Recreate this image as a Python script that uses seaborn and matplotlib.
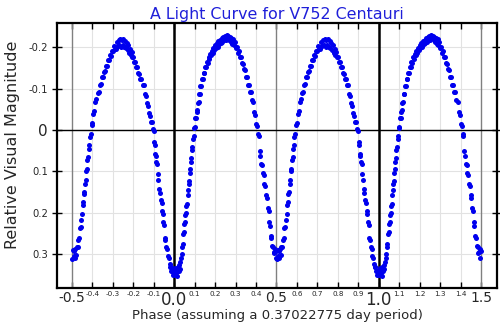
import matplotlib
matplotlib.use("Agg")
import matplotlib.pyplot as plt
import seaborn as sns
import pandas as pd

# ---- data: one cycle of the light curve (phase, relative visual magnitude) ----
phase = [
    0.000, 0.003, 0.006, 0.009, 0.012, 0.015, 0.018, 0.021, 0.024, 0.027,
    0.030, 0.033, 0.036, 0.039, 0.042, 0.045, 0.048, 0.050, 0.053, 0.055,
    0.058, 0.060, 0.063, 0.065, 0.068, 0.070, 0.073, 0.076, 0.079, 0.081,
    0.083, 0.086, 0.089, 0.092, 0.095, 0.098, 0.101, 0.104, 0.107, 0.110,
    0.113, 0.116, 0.119, 0.122, 0.125, 0.128, 0.132, 0.136, 0.140, 0.144,
    0.148, 0.152, 0.156, 0.160, 0.164, 0.168, 0.172, 0.176, 0.180, 0.184,
    0.188, 0.192, 0.196, 0.200, 0.204, 0.208, 0.212, 0.216, 0.220, 0.224,
    0.228, 0.232, 0.236, 0.240, 0.244, 0.248, 0.252, 0.256, 0.260, 0.264,
    0.268, 0.272, 0.276, 0.280, 0.284, 0.288, 0.292, 0.296, 0.300, 0.305,
    0.310, 0.315, 0.320, 0.325, 0.330, 0.335, 0.340, 0.345, 0.350, 0.355,
    0.360, 0.365, 0.370, 0.375, 0.380, 0.385, 0.390, 0.395, 0.400, 0.405,
    0.410, 0.414, 0.418, 0.421, 0.425, 0.429, 0.433, 0.437, 0.441, 0.445,
    0.449, 0.453, 0.457, 0.461, 0.464, 0.467, 0.471, 0.475, 0.479, 0.483,
    0.487, 0.490, 0.493, 0.496, 0.499, 0.502, 0.505, 0.508, 0.511, 0.514,
    0.517, 0.520, 0.524, 0.528, 0.532, 0.536, 0.539, 0.542, 0.546, 0.549,
    0.552, 0.555, 0.558, 0.561, 0.564, 0.567, 0.570, 0.573, 0.576, 0.579,
    0.582, 0.585, 0.588, 0.592, 0.596, 0.600, 0.605, 0.610, 0.615, 0.620,
    0.625, 0.630, 0.635, 0.640, 0.645, 0.650, 0.655, 0.660, 0.665, 0.670,
    0.675, 0.680, 0.685, 0.690, 0.695, 0.700, 0.705, 0.710, 0.715, 0.720,
    0.724, 0.728, 0.732, 0.736, 0.740, 0.744, 0.748, 0.752, 0.756, 0.760,
    0.764, 0.768, 0.772, 0.776, 0.780, 0.784, 0.788, 0.792, 0.796, 0.800,
    0.805, 0.810, 0.815, 0.820, 0.825, 0.830, 0.835, 0.840, 0.845, 0.850,
    0.855, 0.860, 0.865, 0.870, 0.875, 0.880, 0.885, 0.890, 0.895, 0.899,
    0.902, 0.905, 0.907, 0.909, 0.913, 0.917, 0.920, 0.922, 0.926, 0.930,
    0.934, 0.938, 0.941, 0.944, 0.947, 0.950, 0.953, 0.957, 0.961, 0.965,
    0.969, 0.973, 0.977, 0.980, 0.983, 0.986, 0.989, 0.992, 0.995, 0.998,
]
magnitude = [
    0.342, 0.350, 0.334, 0.346, 0.338, 0.352, 0.331, 0.340, 0.326, 0.335,
    0.318, 0.309, 0.298, 0.283, 0.274, 0.251, 0.245, 0.226, 0.221, 0.205,
    0.199, 0.184, 0.178, 0.157, 0.145, 0.130, 0.124, 0.103, 0.094, 0.076,
    0.067, 0.047, 0.040, 0.021, 0.014, -0.004, -0.008, -0.028, -0.030, -0.044,
    -0.048, -0.064, -0.067, -0.087, -0.088, -0.106, -0.107, -0.122, -0.123, -0.137,
    -0.138, -0.151, -0.152, -0.164, -0.162, -0.175, -0.171, -0.183, -0.180, -0.190,
    -0.186, -0.197, -0.193, -0.205, -0.199, -0.211, -0.201, -0.214, -0.207, -0.218,
    -0.209, -0.221, -0.212, -0.224, -0.216, -0.227, -0.218, -0.229, -0.221, -0.226,
    -0.217, -0.225, -0.213, -0.222, -0.208, -0.219, -0.206, -0.213, -0.198, -0.201,
    -0.186, -0.190, -0.176, -0.175, -0.162, -0.160, -0.147, -0.144, -0.128, -0.128,
    -0.109, -0.108, -0.092, -0.091, -0.072, -0.067, -0.043, -0.037, -0.015, -0.009,
    0.010, 0.015, 0.050, 0.063, 0.083, 0.085, 0.103, 0.109, 0.130, 0.135,
    0.156, 0.164, 0.188, 0.196, 0.221, 0.232, 0.255, 0.260, 0.280, 0.282,
    0.297, 0.295, 0.286, 0.308, 0.292, 0.311, 0.289, 0.305, 0.293, 0.309,
    0.287, 0.301, 0.282, 0.282, 0.265, 0.261, 0.237, 0.233, 0.216, 0.203,
    0.181, 0.173, 0.155, 0.149, 0.131, 0.121, 0.099, 0.093, 0.073, 0.065,
    0.045, 0.035, 0.016, 0.009, -0.013, -0.018, -0.039, -0.046, -0.067, -0.075,
    -0.090, -0.091, -0.109, -0.112, -0.127, -0.128, -0.141, -0.143, -0.155, -0.155,
    -0.168, -0.168, -0.180, -0.179, -0.191, -0.191, -0.202, -0.201, -0.196, -0.213,
    -0.202, -0.216, -0.204, -0.219, -0.201, -0.217, -0.206, -0.220, -0.200, -0.215,
    -0.197, -0.210, -0.193, -0.204, -0.187, -0.196, -0.180, -0.189, -0.175, -0.176,
    -0.163, -0.163, -0.151, -0.152, -0.138, -0.136, -0.123, -0.122, -0.109, -0.108,
    -0.088, -0.082, -0.064, -0.058, -0.040, -0.034, -0.019, -0.019, -0.002, 0.003,
    0.029, 0.037, 0.058, 0.063, 0.078, 0.081, 0.107, 0.121, 0.143, 0.152,
    0.169, 0.176, 0.195, 0.203, 0.222, 0.229, 0.260, 0.265, 0.282, 0.287,
    0.304, 0.309, 0.323, 0.330, 0.330, 0.341, 0.339, 0.350, 0.343, 0.344,
]

title_text = "A Light Curve for V752 Centauri"
x_label = "Phase (assuming a 0.37022775 day period)"
y_label = "Relative Visual Magnitude"
major_x = [-0.5, 0.0, 0.5, 1.0, 1.5]
major_x_labels = ["-0.5", "0.0", "0.5", "1.0", "1.5"]
minor_x = [-0.4, -0.3, -0.2, -0.1, 0.1, 0.2, 0.3, 0.4, 0.6, 0.7, 0.8, 0.9,
           1.1, 1.2, 1.3, 1.4]
minor_x_labels = ["-0.4", "-0.3", "-0.2", "-0.1", "0.1", "0.2", "0.3", "0.4",
                  "0.6", "0.7", "0.8", "0.9", "1.1", "1.2", "1.3", "1.4"]
y_ticks = [-0.2, -0.1, 0.0, 0.1, 0.2, 0.3]
y_tick_labels = ["-0.2", "-0.1", "0", "0.1", "0.2", "0.3"]

# Fold the single cycle into the displayed range -0.5 .. 1.5 (two cycles)
rows = []
for p, m in zip(phase, magnitude):
    if p >= 0.5:
        rows.append((p - 1.0, m))
        rows.append((p, m))
    else:
        rows.append((p, m))
        rows.append((p + 1.0, m))
df = pd.DataFrame(rows, columns=["phase", "mag"])

sns.set_style("white")
plt.rcParams["font.family"] = ["DejaVu Sans"]

fig = plt.figure(figsize=(5, 3.25), dpi=100)
ax = fig.add_axes([0.114, 0.114, 0.880, 0.815])

# grid and reference lines
for x in minor_x:
    ax.axvline(x, color="#e2e2e2", lw=0.8, zorder=0)
for y in y_ticks:
    ax.axhline(y, color="#e2e2e2", lw=0.8, zorder=0)
for x in (-0.5, 0.5, 1.5):
    ax.axvline(x, color="#808080", lw=1.0, zorder=1)
for x in (0.0, 1.0):
    ax.axvline(x, color="black", lw=1.8, zorder=1)
ax.axhline(0.0, color="black", lw=1.0, zorder=1)

sns.scatterplot(data=df, x="phase", y="mag", color="#0000ee", s=13,
                linewidth=0, ax=ax, legend=False, zorder=3)

ax.set_xlim(-0.573, 1.578)
ax.set_ylim(0.381, -0.258)

ax.set_xticks(major_x)
ax.set_xticklabels(major_x_labels)
ax.set_xticks(minor_x, minor=True)
ax.set_xticklabels(minor_x_labels, minor=True, fontsize=5.2)
for lab in ax.get_xticklabels():
    if lab.get_text() in ("0.0", "1.0"):
        lab.set_fontsize(12)
    else:
        lab.set_fontsize(10)

ax.set_yticks(y_ticks)
ax.set_yticklabels(y_tick_labels)
for lab in ax.get_yticklabels():
    lab.set_fontsize(11 if lab.get_text() == "0" else 7.2)

ax.tick_params(axis="x", which="both", direction="in", top=True, bottom=True,
               length=4, width=1, pad=2, color="black")
ax.tick_params(axis="y", which="both", direction="inout", left=True,
               right=True, length=7, width=1, pad=3, color="black")

for s in ax.spines.values():
    s.set_color("black")
    s.set_linewidth(1.6)

ax.set_title(title_text, color="#1f1fd9", fontsize=11.4, pad=3)
ax.set_xlabel(x_label, fontsize=9.5, labelpad=0)
ax.set_ylabel(y_label, fontsize=11.5)
ax.yaxis.set_label_coords(-0.084, 0.54)

fig.savefig("out.png", dpi=100)
